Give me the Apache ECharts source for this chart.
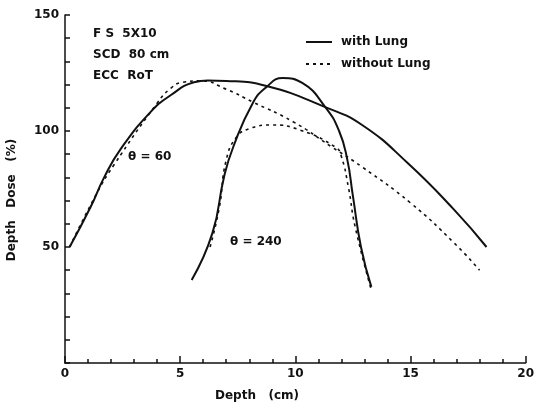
<!DOCTYPE html>
<html>
<head>
<meta charset="utf-8">
<script src="https://cdn.jsdelivr.net/npm/echarts@6/dist/echarts.min.js"></script>
<style>
  html, body { margin: 0; padding: 0; background: #fff; }
  #chart { width: 537px; height: 405px; }
</style>
</head>
<body>
<div id="chart"></div>
<script>
// depth in cm, dose in %
const theta60LungDepth = [0.2, 1.1, 1.7, 2.4, 3.7, 4.6, 5.6, 6.2, 7.0, 8.75, 11.3, 12.9, 14.9, 16.9, 18.3]
const theta60LungDose = [50, 67, 80, 92, 108, 115.5, 121, 121.8, 121.6, 119.4, 110.3, 102.6, 86, 66, 50]

const theta60NoLungDepth = [0.2, 1.4, 2.1, 4.0, 4.6, 5.1, 5.9, 7.0, 8.15, 9.9, 11.6, 12.9, 15.0, 16.9, 18.0]
const theta60NoLungDose = [50, 73.5, 85, 112, 118.5, 121, 121.6, 118, 112.5, 104, 93, 84.5, 69, 51.7, 40]

const theta240LungDepth = [5.5, 6.4, 6.9, 7.3, 8.15, 8.75, 9.45, 10.3, 11.3, 11.9, 12.25, 12.5, 12.85, 13.3]
const theta240LungDose = [35.8, 56, 80, 93, 112, 119, 122.8, 120.7, 110.3, 100, 88, 72, 50, 32.8]

const theta240NoLungDepth = [6.3, 6.7, 7.0, 7.45, 8.0, 9.0, 10.2, 11.75, 12.0, 12.3, 12.6, 13.3]
const theta240NoLungDose = [50, 67, 87.5, 97.4, 101, 102.6, 100.4, 93, 89, 76, 58.6, 31.5]

const xTickLabels = [0, 5, 10, 15, 20]
const yTickLabels = [50, 100, 150]

const notes = ['F S  5X10', 'SCD  80 cm', 'ECC  RoT']

const FONT = 'DejaVu Sans'
const INK = '#111'

const pairs = (xs, ys) => xs.map((x, i) => [x, ys[i]])

const chart = echarts.init(document.getElementById('chart'))

const lineSeries = (name, xs, ys, solid) => ({
  name,
  type: 'line',
  data: pairs(xs, ys),
  symbol: 'none',
  smooth: 0.5,
  lineStyle: solid
    ? { color: INK, width: 2 }
    : { color: INK, width: 1.6, type: [3, 4] },
  itemStyle: { color: INK },
})

chart.setOption({
  animation: false,
  backgroundColor: '#fff',
  grid: { left: 65, right: 10, top: 15, bottom: 42 },
  legend: {
    orient: 'vertical',
    left: 300,
    top: 31,
    itemWidth: 26,
    itemHeight: 14,
    itemGap: 10,
    data: ['with Lung', 'without Lung'],
    itemStyle: { opacity: 0 },
    textStyle: { fontFamily: FONT, fontWeight: 'bold', fontSize: 12, color: INK, padding: [0, 0, 0, 4] },
  },
  xAxis: {
    type: 'value',
    min: 0,
    max: 20,
    interval: 5,
    axisLine: { lineStyle: { color: INK, width: 1.5 } },
    axisTick: { inside: true, length: 7, lineStyle: { color: INK, width: 1.5 } },
    minorTick: { show: true, splitNumber: 5, length: 4, lineStyle: { color: INK, width: 1.5 } },
    splitLine: { show: false },
    axisLabel: {
      margin: 5,
      fontFamily: FONT, fontWeight: 'bold', fontSize: 12, color: INK,
      formatter: v => (xTickLabels.includes(v) ? String(v) : ''),
    },
  },
  yAxis: {
    type: 'value',
    min: 0,
    max: 150,
    interval: 50,
    axisLine: { show: true, lineStyle: { color: INK, width: 1.5 } },
    axisTick: { show: true, inside: true, length: 5, lineStyle: { color: INK, width: 1.5 } },
    minorTick: { show: true, splitNumber: 5, length: 5, lineStyle: { color: INK, width: 1.5 } },
    splitLine: { show: false },
    axisLabel: {
      margin: 6,
      fontFamily: FONT, fontWeight: 'bold', fontSize: 12, color: INK,
      formatter: v => (yTickLabels.includes(v) ? String(v) : ''),
    },
  },
  graphic: [
    ...notes.map((t, i) => ({
      type: 'text',
      left: 93,
      top: 28 + i * 21,
      style: { text: t, fontFamily: FONT, fontWeight: 'bold', fontSize: 12, fill: INK },
    })),
    {
      type: 'text', left: 128, top: 151,
      style: { text: 'θ = 60', fontFamily: FONT, fontWeight: 'bold', fontSize: 12, fill: INK },
    },
    {
      type: 'text', left: 230, top: 236,
      style: { text: 'θ = 240', fontFamily: FONT, fontWeight: 'bold', fontSize: 12, fill: INK },
    },
    {
      type: 'text', left: 215, top: 390,
      style: { text: 'Depth   (cm)', fontFamily: FONT, fontWeight: 'bold', fontSize: 12, fill: INK },
    },
    {
      type: 'text',
      x: 12, y: 200,
      rotation: Math.PI / 2,
      style: {
        text: 'Depth   Dose   (%)', fontFamily: FONT, fontWeight: 'bold', fontSize: 12, fill: INK,
        align: 'center', verticalAlign: 'middle',
      },
    },
  ],
  series: [
    lineSeries('with Lung', theta60LungDepth, theta60LungDose, true),
    lineSeries('without Lung', theta60NoLungDepth, theta60NoLungDose, false),
    lineSeries('with Lung', theta240LungDepth, theta240LungDose, true),
    lineSeries('without Lung', theta240NoLungDepth, theta240NoLungDose, false),
  ],
})
</script>
</body>
</html>
